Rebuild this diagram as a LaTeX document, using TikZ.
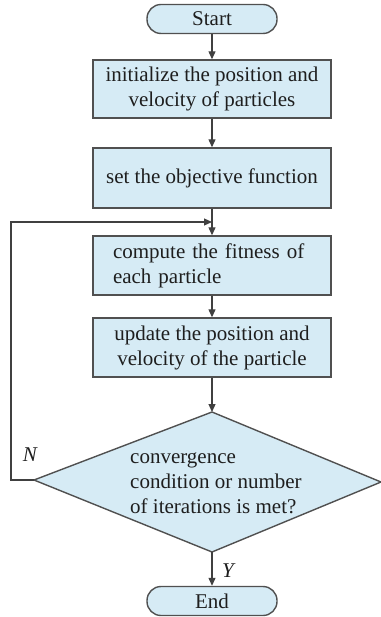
\documentclass[tikz,border=0pt]{standalone}
\usepackage{fontspec}
\setmainfont{Liberation Serif}
\usetikzlibrary{arrows.meta}
\definecolor{boxfill}{RGB}{214,235,245}
\definecolor{boxline}{RGB}{80,80,80}
\definecolor{txt}{RGB}{30,30,30}
\tikzset{
  every node/.style={font=\fontsize{21}{25}\selectfont, text=txt},
  procbox/.style={draw=boxline, line width=1.4pt, fill=boxfill, minimum width=238pt, inner sep=0pt, align=center},
  termbox/.style={draw=boxline, line width=1.4pt, fill=boxfill, minimum width=130pt, minimum height=29pt, rounded corners=14pt, inner sep=0pt},
  conn/.style={draw=boxline!80!black, line width=1.2pt, -{Triangle[length=8pt,width=7pt]}},
}
\begin{document}
\begin{tikzpicture}[x=1pt,y=-1pt]
\useasboundingbox (0,0) rectangle (380,617);
\node[termbox] (start) at (212,19) {Start};
\node[procbox, minimum height=58pt] (b1) at (212,89) {initialize the position and\\velocity of particles};
\node[procbox, minimum height=60pt] (b2) at (212,178) {set the objective function};
\node[procbox, minimum height=59pt, text width=198pt, align=left] (b3) at (212,265.5) {compute the fitness of\\each particle};
\node[procbox, minimum height=59pt] (b4) at (212,347.5) {update the position and\\velocity of the particle};
\coordinate (dt) at (212,412);
\coordinate (dr) at (381,482);
\coordinate (db) at (212,552);
\coordinate (dl) at (34,480);
\filldraw[fill=boxfill, draw=boxline, line width=1.4pt, line join=miter] (dt) -- (dr) -- (db) -- (dl) -- cycle;
\node[anchor=west, align=left, inner sep=0pt] (dtext) at (130,483) {convergence\\condition or number\\of iterations is met?};
\node[termbox] (end) at (212,601) {End};
\coordinate (loopin) at (212,222);
\coordinate (c1) at (11,480);
\coordinate (c2) at (11,222);
\node[font=\fontsize{21}{25}\selectfont\itshape] (nlab) at (30,455) {N};
\node[font=\fontsize{21}{25}\selectfont\itshape] (ylab) at (228,571) {Y};
\draw[conn] (start) -- (b1);
\draw[conn] (b1) -- (b2);
\draw[conn] (b2) -- (b3);
\draw[conn] (b3) -- (b4);
\draw[conn] (b4) -- (dt);
\draw[conn] (db) -- (end);
\draw[conn] (dl) -- (c1) -- (c2) -- (loopin);
\end{tikzpicture}
\end{document}
